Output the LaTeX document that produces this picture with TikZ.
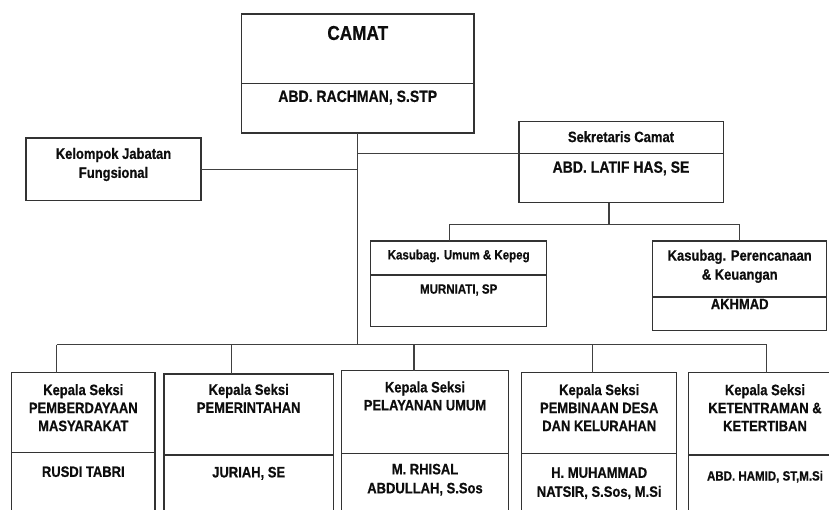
\documentclass[tikz,border=0pt]{standalone}
\usepackage{fontspec}
\setmainfont[FakeStretch=0.86, BoldFeatures={FakeBold=0.6}]{Liberation Sans}

% box from (left,top) to (right,bottom), with its divider at height #6
\newcommand*{\orgbox}[6]{%
	\node[box, minimum width={(#4)-(#2)}, minimum height={(#5)-(#3)}] (#1) at ({((#2)+(#4))/2},{((#3)+(#5))/2}) {};
	\draw[box] (#2,#6) -- (#4,#6);
}

\begin{document}
\begin{tikzpicture}
[
	x=1pt, y=-1pt,
	box/.style={draw=black!80, line width=1.3pt, rectangle, inner sep=0pt, outer sep=0pt},
	link/.style={draw=black!75, line width=1.3pt},
	txt/.style={align=center, inner sep=0pt, text=black!95, font=\bfseries\fontsize{15.1}{19}\selectfont},
	seksi/.style={font=\bfseries\fontsize{15.1}{18}\selectfont},
	small/.style={font=\bfseries\fontsize{13.4}{16}\selectfont},
	big/.style={font=\bfseries\fontsize{16.3}{18}\selectfont}
]

	\useasboundingbox (0,0) rectangle (829,509);
	\clip (0,0) rectangle (829,509);

	% boxes
	\orgbox{camat}{241.5}{14}{474}{133}{83.5}
	\node[box, minimum width=175, minimum height=62.7] (kelompok) at (113.5,169.3) {};
	\orgbox{sekcam}{519}{121.7}{723.3}{202.7}{153.3}
	\orgbox{umum}{370.7}{241}{546.7}{326.7}{275}
	\orgbox{renc}{652.7}{241}{826.7}{330.7}{297.3}
	\draw[box, line width=2pt] (652.7,297.3) -- (826.7,297.3);
	\orgbox{s1}{11.7}{372.7}{155}{530}{452.7}
	\orgbox{s2}{164}{374}{333.3}{530}{455}
	\orgbox{s3}{341.7}{370.7}{508.3}{530}{453.3}
	\orgbox{s4}{521.7}{372.7}{676.7}{530}{453.3}
	\orgbox{s5}{688.3}{372.7}{842}{530}{455}

	% texts
	\node[txt, font=\bfseries\fontsize{20}{22}\selectfont] (camatT) at (357.75,33) {CAMAT};
	\node[txt, big] (camatN) at (357.75,97.5) {ABD. RACHMAN, S.STP};
	\node[txt] (kelompokT) at (113.5,164.5) {Kelompok Jabatan\\Fungsional};
	\node[txt] (sekcamT) at (621,136.7) {Sekretaris Camat};
	\node[txt, big] (sekcamN) at (621,168.3) {ABD. LATIF HAS, SE};
	\node[txt, small] (umumT) at (458.7,256) {Kasubag. Umum \& Kepeg};
	\node[txt, small] (umumN) at (458.7,290) {MURNIATI, SP};
	\node[txt] (rencT) at (739.7,266.3) {Kasubag. Perencanaan\\\& Keuangan};
	\node[txt] (rencN) at (739.7,304) {AKHMAD};

	\node[txt, seksi] (s1T) at (83.3,407.7) {Kepala Seksi\\PEMBERDAYAAN\\MASYARAKAT};
	\node[txt] (s1N) at (83.3,471.7) {RUSDI TABRI};
	\node[txt, seksi] (s2T) at (248.7,398.4) {Kepala Seksi\\PEMERINTAHAN};
	\node[txt] (s2N) at (248.7,473.3) {JURIAH, SE};
	\node[txt, seksi] (s3T) at (425,396) {Kepala Seksi\\PELAYANAN UMUM};
	\node[txt] (s3N) at (425,479.7) {M. RHISAL\\ABDULLAH, S.Sos};
	\node[txt, seksi] (s4T) at (599.2,407.7) {Kepala Seksi\\PEMBINAAN DESA\\DAN KELURAHAN};
	\node[txt] (s4N) at (599.2,483.3) {H. MUHAMMAD\\NATSIR, S.Sos, M.Si};
	\node[txt, seksi] (s5T) at (765,407.7) {Kepala Seksi\\KETENTRAMAN \&\\KETERTIBAN};
	\node[txt, small] (s5N) at (765,476.7) {ABD. HAMID, ST,M.Si};

	% lines
	\coordinate (bar) at (357.75,344.7);
	\coordinate (sekdiv) at (519,153.3);
	\coordinate (sekdrop) at (609,224.3);
	\coordinate (umumdrop) at (449.3,224.3);
	\draw[link] (camat.south) -- (bar);
	\draw[link] (kelompok.east) -- (kelompok.east -| camat.south);
	\draw[link] (camat.south |- sekdiv) -- (sekdiv);
	\draw[link] (sekdrop |- sekcam.south) -- (sekdrop);
	\draw[link] (umumdrop |- umum.north) -- (umumdrop) -- (renc.north |- sekdrop) -- (renc.north);

	\foreach \n/\x in {s1/56.7, s2/231.7, s3/414, s4/592.3, s5/766.7}
	{
		\coordinate (d\n) at (\x,344.7);
		\draw[link] (d\n) -- (d\n |- \n.north);
	}
	\draw[link] (ds1) -- (ds5);

\end{tikzpicture}
\end{document}
